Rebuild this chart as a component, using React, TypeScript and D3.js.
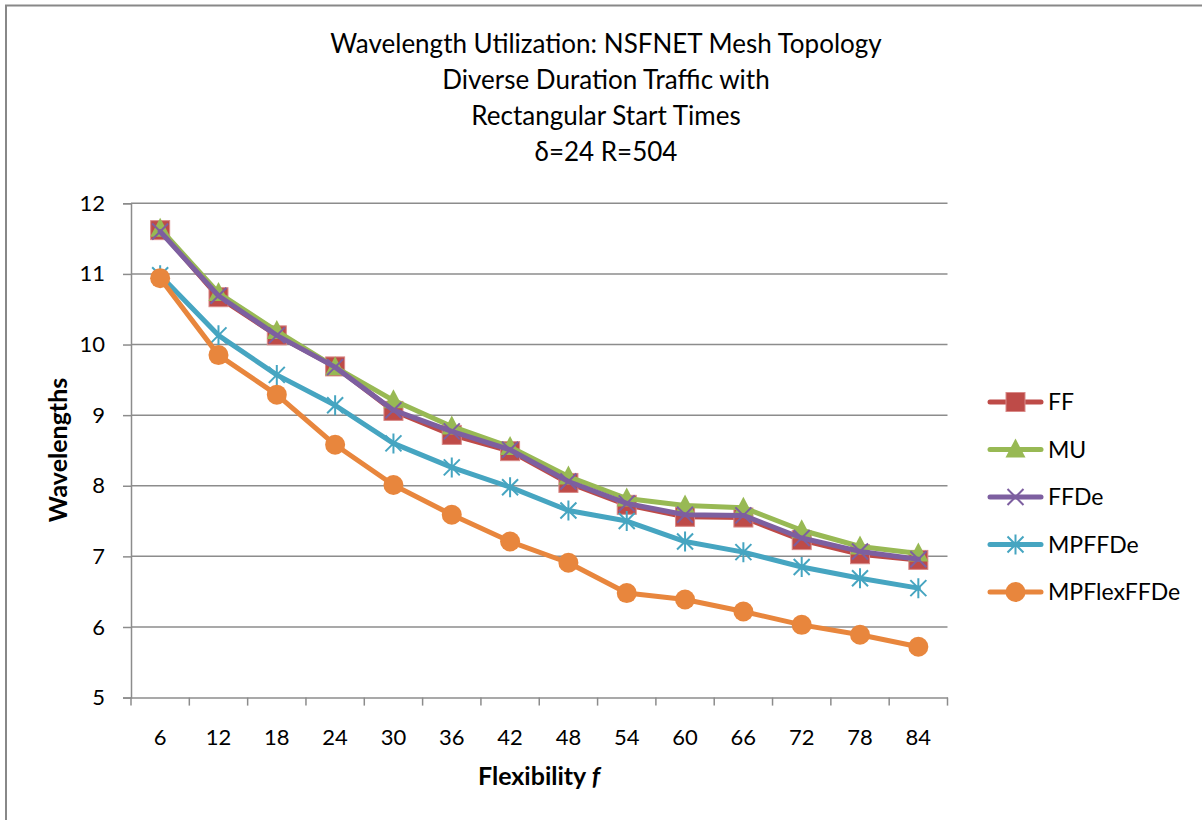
import React, { useEffect, useRef } from 'react';
import * as d3 from 'd3';

// flexibility values on the x axis
const categories = [6, 12, 18, 24, 30, 36, 42, 48, 54, 60, 66, 72, 78, 84];

const ff = [11.62, 10.67, 10.13, 9.69, 9.06, 8.72, 8.49, 8.04, 7.73, 7.56, 7.55, 7.23, 7.03, 6.95];
const mu = [11.64, 10.73, 10.19, 9.68, 9.21, 8.84, 8.55, 8.13, 7.82, 7.72, 7.69, 7.37, 7.14, 7.04];
const ffde = [11.6, 10.69, 10.13, 9.68, 9.07, 8.77, 8.51, 8.06, 7.75, 7.59, 7.58, 7.26, 7.07, 6.96];
const mpffde = [10.98, 10.13, 9.57, 9.14, 8.6, 8.26, 7.98, 7.65, 7.5, 7.21, 7.06, 6.85, 6.69, 6.55];
const mpflexffde = [10.94, 9.85, 9.29, 8.58, 8.01, 7.59, 7.21, 6.91, 6.48, 6.39, 6.22, 6.03, 5.89, 5.72];

const yTicks = [5, 6, 7, 8, 9, 10, 11, 12];

const titleLines = [
  'Wavelength Utilization: NSFNET Mesh Topology',
  'Diverse Duration Traffic with',
  'Rectangular Start Times',
  'δ=24 R=504',
];

const series = [
  { name: 'FF', values: ff, color: '#BE4B48', marker: 'square' },
  { name: 'MU', values: mu, color: '#98B954', marker: 'triangle' },
  { name: 'FFDe', values: ffde, color: '#7D5FA0', marker: 'x' },
  { name: 'MPFFDe', values: mpffde, color: '#46A5C1', marker: 'star' },
  { name: 'MPFlexFFDe', values: mpflexffde, color: '#E8863D', marker: 'circle' },
];

const W = 1202;
const H = 820;
const FONT = 'Lato, "Open Sans", sans-serif';

function drawMarker(g, kind, x, y, color) {
  if (kind === 'square') {
    g.append('rect')
      .attr('x', x - 9.5).attr('y', y - 9.5)
      .attr('width', 19).attr('height', 19)
      .attr('fill', color).attr('stroke', '#d98a88').attr('stroke-width', 1);
  } else if (kind === 'triangle') {
    g.append('path')
      .attr('d', `M${x},${y - 11}L${x + 10},${y + 8}L${x - 10},${y + 8}Z`)
      .attr('fill', color);
  } else if (kind === 'x') {
    g.append('path')
      .attr('d', `M${x - 8},${y - 8}L${x + 8},${y + 8}M${x + 8},${y - 8}L${x - 8},${y + 8}`)
      .attr('stroke', color).attr('stroke-width', 2);
  } else if (kind === 'star') {
    g.append('path')
      .attr('d', `M${x - 8},${y - 8}L${x + 8},${y + 8}M${x + 8},${y - 8}L${x - 8},${y + 8}M${x},${y - 10}L${x},${y + 10}`)
      .attr('stroke', color).attr('stroke-width', 2);
  } else {
    g.append('circle').attr('cx', x).attr('cy', y).attr('r', 10).attr('fill', color);
  }
}

const Chart = () => {
  const svgRef = useRef(null);

  useEffect(() => {
    const svg = d3.select(svgRef.current);
    svg.selectAll('*').remove();

    const left = 131;
    const right = 947.5;
    const top = 203.3;
    const bottom = 697.6;

    const x = d3.scaleBand().domain(categories.map(String)).range([left, right]).padding(0);
    const y = d3.scaleLinear().domain([5, 12]).range([bottom, top]);
    const cx = (c) => x(String(c)) + x.bandwidth() / 2;

    // outer frame (only top and left visible)
    svg.append('path').attr('d', `M6,${H}L6,5.5L${W},5.5`)
      .attr('fill', 'none').attr('stroke', '#888').attr('stroke-width', 2);

    // title
    const title = svg.append('text')
      .attr('text-anchor', 'middle').attr('font-family', FONT)
      .attr('font-size', 26).attr('fill', '#000');
    titleLines.forEach((t, i) => {
      title.append('tspan').attr('x', 606).attr('y', 53 + i * 36).text(t);
    });

    // gridlines
    svg.append('g').selectAll('line').data(yTicks.filter(d => d > 5)).join('line')
      .attr('x1', left).attr('x2', right)
      .attr('y1', d => y(d)).attr('y2', d => y(d))
      .attr('stroke', '#8c8c8c').attr('stroke-width', 1.5);

    // y axis
    const yAxis = svg.append('g').attr('transform', `translate(${left},0)`)
      .call(d3.axisLeft(y).tickValues(yTicks).tickSize(8).tickPadding(18).tickFormat(d3.format('d')));
    yAxis.select('.domain').attr('stroke', '#8c8c8c').attr('stroke-width', 1.5);
    yAxis.selectAll('.tick line').attr('stroke', '#8c8c8c').attr('stroke-width', 1.5);
    yAxis.selectAll('.tick text').attr('font-family', FONT).attr('font-size', 22).attr('fill', '#000');

    // x axis, ticks sit between categories
    const xAxis = svg.append('g').attr('transform', `translate(0,${bottom})`)
      .call(d3.axisBottom(x).tickSize(0).tickPadding(32));
    xAxis.select('.domain').attr('stroke', '#8c8c8c').attr('stroke-width', 1.5);
    xAxis.selectAll('.tick text').attr('font-family', FONT).attr('font-size', 22).attr('fill', '#000');
    const edges = categories.map(c => x(String(c))).concat([right]);
    xAxis.append('g').selectAll('line').data(edges).join('line')
      .attr('x1', d => d).attr('x2', d => d).attr('y1', 0).attr('y2', 8)
      .attr('stroke', '#8c8c8c').attr('stroke-width', 1.5);

    // axis titles
    svg.append('text')
      .attr('transform', `translate(67,450) rotate(-90)`)
      .attr('text-anchor', 'middle').attr('font-family', FONT)
      .attr('font-size', 25).attr('font-weight', 'bold').text('Wavelengths');
    const xl = svg.append('text')
      .attr('x', 539).attr('y', 785).attr('text-anchor', 'middle')
      .attr('font-family', FONT).attr('font-size', 25).attr('font-weight', 'bold');
    xl.append('tspan').text('Flexibility ');
    xl.append('tspan').attr('font-style', 'italic').text('f');

    // series
    const line = d3.line().x((d, i) => cx(categories[i])).y(d => y(d));
    series.forEach(s => {
      const g = svg.append('g');
      g.append('path').datum(s.values).attr('d', line)
        .attr('fill', 'none').attr('stroke', s.color)
        .attr('stroke-width', 5).attr('stroke-linejoin', 'round').attr('stroke-linecap', 'round');
      s.values.forEach((v, i) => drawMarker(g, s.marker, cx(categories[i]), y(v), s.color));
    });

    // legend
    const lg = svg.append('g');
    series.forEach((s, i) => {
      const ly = 402 + i * 47.5;
      lg.append('line').attr('x1', 990).attr('x2', 1041).attr('y1', ly).attr('y2', ly)
        .attr('stroke', s.color).attr('stroke-width', 5).attr('stroke-linecap', 'round');
      drawMarker(lg, s.marker, 1015.5, ly, s.color);
      lg.append('text').attr('x', 1048).attr('y', ly).attr('dy', '0.35em')
        .attr('font-family', FONT).attr('font-size', 23).attr('fill', '#000').text(s.name);
    });
  }, []);

  return <svg ref={svgRef} width={W} height={H} style={{ position: 'absolute', left: 0, top: 0, background: '#fff' }} />;
};

export default function App() {
  return <Chart />;
}
